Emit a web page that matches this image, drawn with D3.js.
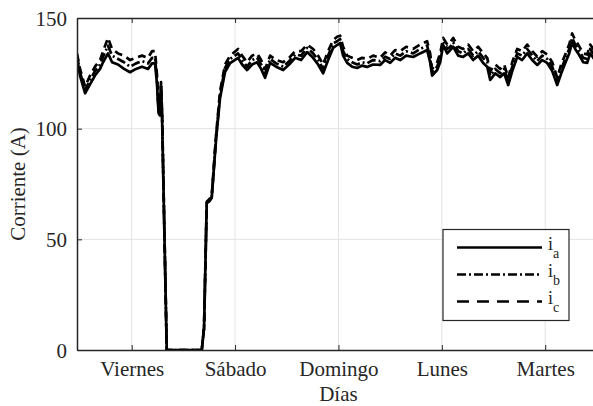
<!DOCTYPE html>
<html>
<head>
<meta charset="utf-8">
<script src="https://cdn.jsdelivr.net/npm/d3@7"></script>
<style>
  body { margin: 0; background: #fff; }
  text { font-family: "Liberation Serif", "Times New Roman", serif; fill: #262626; }
</style>
</head>
<body>
<div id="chart"></div>
<script>
// time in days (1 = Viernes, 2 = Sábado, ...)
const t = [0.471,0.5,0.549,0.597,0.645,0.694,0.723,0.771,0.81,0.868,0.926,0.984,1.042,1.1,1.158,1.197,1.226,1.245,1.26,1.274,1.284,1.294,
  1.339,1.678,
  1.7,1.726,1.748,1.774,1.816,1.855,1.903,1.952,
  2.029,2.068,2.116,2.165,2.213,2.252,2.29,2.339,2.397,2.465,2.523,2.581,2.639,2.697,2.755,2.803,2.852,2.9,2.948,2.987,
  3.016,3.045,3.084,3.132,3.181,3.229,3.277,3.335,3.403,3.452,3.5,3.548,3.597,3.655,3.723,3.79,3.858,3.887,3.906,3.955,3.984,
  4.013,4.052,4.081,4.11,4.158,4.206,4.255,4.303,4.352,4.4,4.439,4.468,4.516,4.565,4.603,4.642,4.681,4.729,4.777,4.826,4.874,4.923,4.971,
  5.019,5.068,5.116,5.155,5.194,5.232,5.261,5.29,5.319,5.368,5.406,5.435,5.465,5.5];

const ia = [132,124,116,120,124,127,130,134,130,129,127,125.5,127,128,127,129.5,129.6,120,107,106,119,105,
  0,0,
  10,66.4,67,68.7,95,114,125.6,129.6,
  132,129,126.5,129,130,127,123,129.7,128,126.5,129,132,131,134.6,132,129,125,131,136.5,137.8,
  138.7,133,129.7,128,127.4,128.5,127.9,129,128.8,131,129.7,132,131,133,132.4,134,135.5,130,124,126.5,130,
  137.8,134,135.5,137,133,132.4,134,131,133,129.7,128,122,125,123.3,125,119.7,126,132.4,131,134,131,128.8,131,
  129.7,126,119.7,125,129.7,134,139,136,134,130,129.7,134,132,130];

const ib = [133,125.5,117.5,122,126,129,132.5,137.5,133,131.5,130,128,129.5,130.5,129.5,132,132,122,108,107,120,106,
  0,0,
  10,66.7,67.5,69,96,115.5,127.5,131.5,
  134,131,128,131,132,129,125,131.5,129.5,128,130.5,133.5,133,136.5,134,131,127,133,138.5,139.5,
  140.5,135,131.5,130,129,130,129.5,131,130.5,132.5,131.5,134,133,135,134,136,137.5,132,125.5,128,132,
  139.5,136,137,139,135,134,136,133,135,132,130,124,127,125,127,121.5,128,134,133,136,133,130.5,133,
  131.5,128,121.5,127,131.5,136,141,138,136,132,131.5,136,134,132];

const ic = [134,127,119,124,128,131,135,141,136,134,133,131,132,133,132,135,135,124,109,108,121,107,
  0,0,
  10,67,68,69.5,97,117,129,133,
  136,133,130,133,134,131,127,133,131,130,132,135,135,138,136,133,129,135,140,141.5,
  142,137,133,132,131,132,131.5,133,132,134.5,133,135.5,135,137,136,138,139.5,134,127,130,134,
  141,138,139,141,137,136,138,135,137,134,132,126,129,127,129,123,130,136,135,138,135,132.5,135,
  133.5,130,123,129,133.5,138,143,140,138,134,133.5,138,136,134];

const dayTicks = [1, 2, 3, 4, 5];
const dayLabels = ["Viernes", "Sábado", "Domingo", "Lunes", "Martes"];
const yTicks = [0, 50, 100, 150];
const seriesNames = ["a", "b", "c"];

const width = 593, height = 406;
const mLeft = 77, mTop = 18, mBottom = 350, mRight = 600;

const svg = d3.select("#chart").append("svg")
  .attr("width", width)
  .attr("height", height);

const x = d3.scaleLinear().domain([0.471, 5.53]).range([mLeft, mRight]);
const y = d3.scaleLinear().domain([0, 150]).range([mBottom, mTop]);

// grid
svg.append("g").selectAll("line")
  .data(dayTicks).enter().append("line")
  .attr("x1", d => x(d)).attr("x2", d => x(d))
  .attr("y1", mTop).attr("y2", mBottom)
  .attr("stroke", "#e3e3e3").attr("stroke-width", 1);
svg.append("g").selectAll("line")
  .data(yTicks.slice(1, -1)).enter().append("line")
  .attr("x1", mLeft).attr("x2", mRight)
  .attr("y1", d => y(d)).attr("y2", d => y(d))
  .attr("stroke", "#e3e3e3").attr("stroke-width", 1);

svg.append("clipPath").attr("id", "clip")
  .append("rect").attr("x", mLeft).attr("y", mTop - 5)
  .attr("width", mRight - mLeft).attr("height", mBottom - mTop + 5);

const line = d3.line()
  .x((d, i) => x(t[i]))
  .y(d => y(d));

const styles = [
  { data: ia, dash: null },
  { data: ib, dash: "9,3,2,3" },
  { data: ic, dash: "8,5" }
];

const lines = svg.append("g").attr("clip-path", "url(#clip)");
styles.forEach(s => {
  lines.append("path")
    .attr("d", line(s.data))
    .attr("fill", "none")
    .attr("stroke", "#000")
    .attr("stroke-width", 2.7)
    .attr("stroke-linejoin", "round")
    .attr("stroke-dasharray", s.dash);
});

// axes
const xAxis = d3.axisBottom(x).tickValues(dayTicks)
  .tickFormat((d, i) => dayLabels[i]).tickSizeInner(-5).tickSizeOuter(0).tickPadding(12);
const gx = svg.append("g").attr("transform", `translate(0,${mBottom})`).call(xAxis);
const xTop = d3.axisTop(x).tickValues(dayTicks).tickFormat("").tickSizeInner(-5).tickSizeOuter(0);
const gxt = svg.append("g").attr("transform", `translate(0,${mTop})`).call(xTop);
const yAxis = d3.axisLeft(y).tickValues(yTicks).tickSizeInner(-5).tickSizeOuter(0).tickPadding(10);
const gy = svg.append("g").attr("transform", `translate(${mLeft},0)`).call(yAxis);

[gx, gxt, gy].forEach(g => {
  g.select(".domain").attr("stroke", "#262626").attr("stroke-width", 1.5);
  g.selectAll(".tick line").attr("stroke", "#262626").attr("stroke-width", 1);
  g.selectAll("text").style("font-size", "21px")
    .style("font-family", "'Liberation Serif', serif").attr("fill", "#262626");
});
gx.selectAll("text").attr("dy", "0.68em");
gy.selectAll("text").attr("dy", "0.34em");

svg.append("text")
  .attr("x", x(3)).attr("y", 401)
  .attr("text-anchor", "middle")
  .style("font-size", "21px")
  .text("Días");

svg.append("text")
  .attr("transform", `translate(25,${(mTop + mBottom) / 2}) rotate(-90)`)
  .attr("text-anchor", "middle")
  .style("font-size", "21px")
  .text("Corriente (A)");

// legend
const lg = svg.append("g");
lg.append("rect")
  .attr("x", 443).attr("y", 229.5)
  .attr("width", 126).attr("height", 91)
  .attr("fill", "#fff").attr("stroke", "#262626").attr("stroke-width", 1.2);
styles.forEach((s, i) => {
  const ly = 247.5 + i * 27;
  lg.append("line")
    .attr("x1", 457).attr("x2", 542)
    .attr("y1", ly).attr("y2", ly)
    .attr("stroke", "#000").attr("stroke-width", 2.6)
    .attr("stroke-dasharray", i === 2 ? "12,8" : s.dash);
  const tx = lg.append("text")
    .attr("x", 548).attr("y", ly + 2)
    .style("font-size", "18px");
  tx.append("tspan").text("i");
  tx.append("tspan").attr("dy", 8).style("font-size", "14px").text(seriesNames[i]);
});
</script>
</body>
</html>
